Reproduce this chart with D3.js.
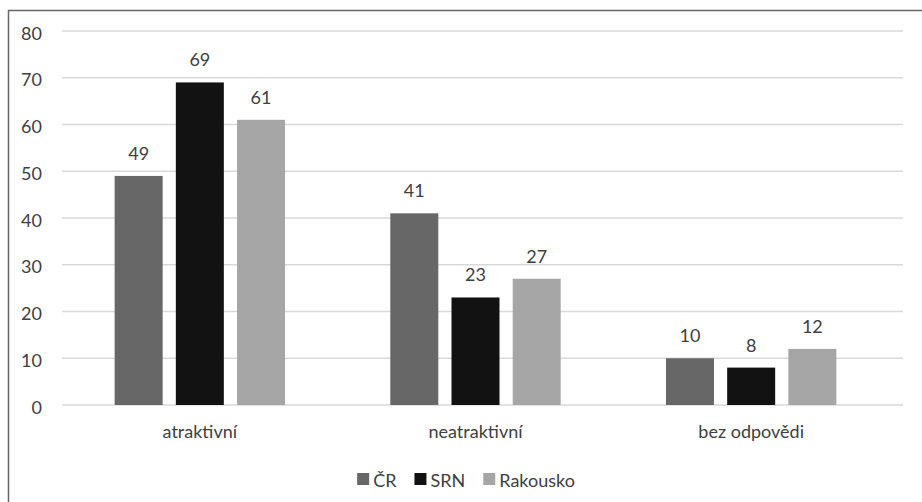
<!DOCTYPE html>
<html>
<head>
<meta charset="utf-8">
<script src="https://cdn.jsdelivr.net/npm/d3@7"></script>
<style>
  html, body { margin: 0; padding: 0; background: #fff; }
  svg { display: block; }
  text { font-family: Lato, "Open Sans", sans-serif; fill: #404040; }
</style>
</head>
<body>
<svg id="chart" width="922" height="502"></svg>
<script>
// Categories, series and values
const categories = ["atraktivní", "neatraktivní", "bez odpovědi"];
const seriesNames = ["ČR", "SRN", "Rakousko"];
const seriesColors = ["#676767", "#121212", "#a6a6a6"];
const valuesCR = [49, 41, 10];
const valuesSRN = [69, 23, 8];
const valuesRakousko = [61, 27, 12];
const yTicks = [0, 10, 20, 30, 40, 50, 60, 70, 80];

const seriesValues = [valuesCR, valuesSRN, valuesRakousko];
const rows = categories.map((c, i) => ({
  category: c,
  bars: seriesNames.map((s, j) => ({ series: s, value: seriesValues[j][i], color: seriesColors[j] }))
}));

const FONT = "Lato, 'Open Sans', sans-serif";
const svg = d3.select("#chart");

// Outer frame (runs off the right and bottom edges)
svg.append("rect")
  .attr("x", 8.5).attr("y", 10.5)
  .attr("width", 1000).attr("height", 1000)
  .attr("fill", "none")
  .attr("stroke", "#666")
  .attr("stroke-width", 1.5);

const plot = { left: 62, right: 889, gridRight: 903, top: 31, bottom: 405 };

const y = d3.scaleLinear().domain([0, 80]).range([plot.bottom, plot.top]);
const x0 = d3.scaleBand().domain(categories).range([plot.left, plot.right]).padding(0);
const x1 = d3.scaleBand().domain(seriesNames).range([-85.2, 85.2]).paddingInner(0.2157).paddingOuter(0);

// Horizontal gridlines
svg.append("g")
  .selectAll("line")
  .data(yTicks)
  .join("line")
  .attr("x1", plot.left).attr("x2", plot.gridRight)
  .attr("y1", d => y(d)).attr("y2", d => y(d))
  .attr("stroke", "#d9d9d9")
  .attr("stroke-width", 1.3);

// Y axis labels
const yAxis = d3.axisLeft(y).tickValues(yTicks).tickSize(0).tickPadding(0);
const yAxisG = svg.append("g")
  .attr("transform", "translate(42,0)")
  .call(yAxis);
yAxisG.select(".domain").remove();
yAxisG.selectAll("text")
  .attr("font-size", 18)
  .attr("font-family", FONT)
  .attr("fill", "#404040")
  .attr("dy", "0.45em");

// Bars
const groups = svg.append("g")
  .selectAll("g")
  .data(rows)
  .join("g")
  .attr("transform", d => `translate(${x0(d.category) + x0.bandwidth() / 2},0)`);

groups.selectAll("rect")
  .data(d => d.bars)
  .join("rect")
  .attr("x", d => x1(d.series))
  .attr("width", x1.bandwidth())
  .attr("y", d => y(d.value))
  .attr("height", d => y(0) - y(d.value))
  .attr("fill", d => d.color);

// Value labels above bars
groups.selectAll("text.val")
  .data(d => d.bars)
  .join("text")
  .attr("class", "val")
  .attr("x", d => x1(d.series) + x1.bandwidth() / 2)
  .attr("y", d => y(d.value) - 16)
  .attr("text-anchor", "middle")
  .attr("font-size", 18)
  .text(d => d.value);

// Category axis labels
const xAxis = d3.axisBottom(x0).tickSize(0).tickPadding(0);
const xAxisG = svg.append("g")
  .attr("transform", `translate(0,${plot.bottom})`)
  .call(xAxis);
xAxisG.select(".domain").remove();
xAxisG.selectAll("text")
  .attr("font-size", 18)
  .attr("font-family", FONT)
  .attr("fill", "#404040")
  .attr("dy", 0)
  .attr("y", 33);

// Legend
const legend = svg.append("g");
const items = legend.selectAll("g")
  .data(seriesNames.map((s, i) => ({ name: s, color: seriesColors[i] })))
  .join("g");
items.append("rect")
  .attr("width", 12).attr("height", 12)
  .attr("y", 473)
  .attr("fill", d => d.color);
items.append("text")
  .attr("x", 16)
  .attr("y", 487)
  .attr("font-size", 18)
  .text(d => d.name);
let cursor = 0;
items.each(function () {
  const g = d3.select(this);
  const w = 16 + g.select("text").node().getComputedTextLength();
  g.attr("data-off", cursor);
  cursor += w + 18;
});
const legendWidth = cursor - 18;
const legendStart = 466 - legendWidth / 2;
items.attr("transform", function () {
  return `translate(${legendStart + (+this.getAttribute("data-off"))},0)`;
});
</script>
</body>
</html>
